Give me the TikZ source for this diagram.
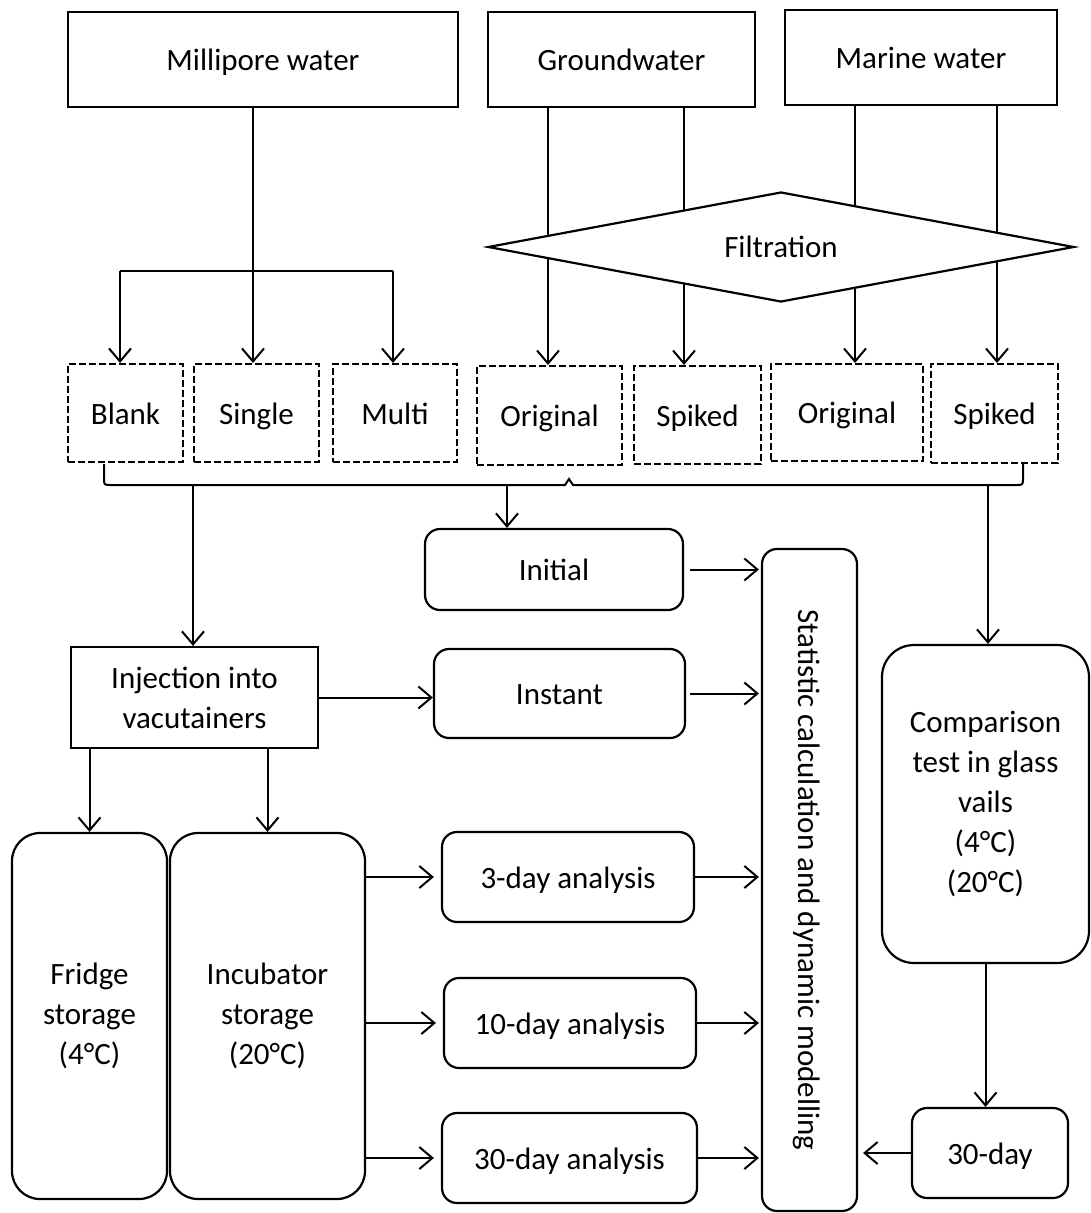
\documentclass[tikz,border=0pt]{standalone}
\usepackage{fontspec}
\setmainfont{Carlito}
\usetikzlibrary{arrows.meta,shapes.geometric,backgrounds}
\begin{document}
\begin{tikzpicture}[x=1pt,y=-1pt,
  every node/.style={font=\fontsize{31}{40}\selectfont, align=center, inner sep=0pt},
  oneline/.style={text height=23pt, text depth=1pt},
  box/.style={draw, line width=2.2pt, rectangle},
  rbox/.style={box, rounded corners=#1},
  rbox/.default=15pt,
  dbox/.style={draw, oneline, line width=2pt, dash pattern=on 7pt off 3pt},
  conn/.style={line width=2pt},
  arr/.style={conn, -{Straight Barb[length=13pt,width=22pt]}}
]
\useasboundingbox (0,0) rectangle (1091,1213);

% sources
\node[box, oneline, minimum width=390pt, minimum height=95pt] (mill) at (263,59.5) {Millipore water};
\node[box, oneline, minimum width=267pt, minimum height=95pt] (ground) at (621.5,59.5) {Groundwater};
\node[box, oneline, minimum width=272pt, minimum height=95pt] (marine) at (921,57.5) {Marine water};

\node[draw, diamond, shape aspect=5.3, minimum width=586pt, minimum height=110pt,
      line width=2.2pt, fill=white] (filt) at (781,247) {Filtration};

% sample types
\node[dbox, minimum width=115pt, minimum height=98pt] (blank) at (125.5,413) {Blank};
\node[dbox, minimum width=125pt, minimum height=98pt] (single) at (256.5,413) {Single};
\node[dbox, minimum width=124pt, minimum height=98pt] (multi) at (395,413) {Multi};
\node[dbox, minimum width=145pt, minimum height=99pt] (orig1) at (549.5,415.5) {Original};
\node[dbox, minimum width=127pt, minimum height=98pt] (spiked1) at (697.5,415) {Spiked};
\node[dbox, minimum width=152pt, minimum height=97pt] (orig2) at (847,412.5) {Original};
\node[dbox, minimum width=127pt, minimum height=99pt] (spiked2) at (994.5,413.5) {Spiked};

% middle
\node[box, minimum width=247pt, minimum height=101pt] (inj) at (194.5,697.5) {Injection into\\vacutainers};
\node[rbox, oneline, minimum width=258pt, minimum height=81pt] (initial) at (554,569.5) {Initial};
\node[rbox, oneline, minimum width=251pt, minimum height=89pt] (instant) at (559.5,693.5) {Instant};
\node[rbox, minimum width=95pt, minimum height=662pt] (stat) at (809.5,880) {};
\node[rotate=-90, oneline] (stattext) at (stat.center) {Statistic calculation and dynamic modelling};
\node[rbox=32pt, minimum width=207pt, minimum height=318pt] (comp) at (985.5,804)
  {Comparison\\test in glass\\vails\\(4°C)\\(20°C)};
\node[rbox, oneline, minimum width=156pt, minimum height=90pt] (thirty) at (990,1153) {30-day};

% storage
\node[rbox=28pt, minimum width=155pt, minimum height=366pt] (fridge) at (89.5,1016) {Fridge\\storage\\(4°C)};
\node[rbox=28pt, minimum width=195pt, minimum height=366pt] (incub) at (267.5,1016) {Incubator\\storage\\(20°C)};

% analyses
\node[rbox, oneline, minimum width=252pt, minimum height=90pt] (three) at (568,877) {3-day analysis};
\node[rbox, oneline, minimum width=252pt, minimum height=90pt] (ten) at (570,1023) {10-day analysis};
\node[rbox, oneline, minimum width=255pt, minimum height=90pt] (thirtyA) at (569.5,1158) {30-day analysis};

% helper coordinates
\coordinate (mx) at (253,271);
\coordinate (bl) at (120,271);
\coordinate (br) at (393,271);
\coordinate (gx1) at (548,0);
\coordinate (gx2) at (684,0);
\coordinate (mx1) at (855,0);
\coordinate (mx2) at (997,0);
\coordinate (b1) at (193,485);
\coordinate (b2) at (507,485);
\coordinate (b3) at (988,485);

\begin{scope}[on background layer]
  \draw[conn] (mill.south -| mx) -- (mx);
  \draw[conn] (bl) -- (br);
  \draw[arr] (bl) -- (bl |- blank.north);
  \draw[arr] (mx) -- (mx |- single.north);
  \draw[arr] (br) -- (br |- multi.north);
  \draw[arr] (gx1 |- ground.south) -- (gx1 |- orig1.north);
  \draw[arr] (gx2 |- ground.south) -- (gx2 |- spiked1.north);
  \draw[arr] (mx1 |- marine.south) -- (mx1 |- orig2.north);
  \draw[arr] (mx2 |- marine.south) -- (mx2 |- spiked2.north);

  % bracket under the sample types
  \draw[conn] (104,464) -- (104,478) .. controls (104,485) .. (111,485) -- (565,485)
     -- (569,479) -- (573,485) -- (1016,485) .. controls (1023,485) .. (1023,478) -- (1023,464);
  \draw[arr] (b1) -- (b1 |- inj.north);
  \draw[arr] (b2) -- (b2 |- initial.north);
  \draw[arr] (b3) -- (b3 |- comp.north);

  \draw[arr] (inj.east) -- (inj.east -| instant.west);
  \draw[arr, shorten >=2pt] ([xshift=6pt]initial.east) -- (initial.east -| stat.west);
  \draw[arr, shorten >=2pt] ([xshift=4pt]instant.east) -- (instant.east -| stat.west);
  \draw[arr] (inj.south -| fridge.north) -- (fridge.north);
  \draw[arr] (inj.south -| incub.north) -- (incub.north);
  \draw[arr, shorten >=7pt] (incub.east |- three.west) -- (three.west);
  \draw[arr, shorten >=7pt] (incub.east |- ten.west) -- (ten.west);
  \draw[arr, shorten >=7pt] (incub.east |- thirtyA.west) -- (thirtyA.west);
  \draw[arr, shorten >=2pt] (three.east) -- (three.east -| stat.west);
  \draw[arr, shorten >=2pt] (ten.east) -- (ten.east -| stat.west);
  \draw[arr, shorten >=2pt] (thirtyA.east) -- (thirtyA.east -| stat.west);
  \draw[arr] (comp.south) -- (comp.south |- thirty.north);
  \draw[arr, shorten >=5pt] (thirty.west) -- (thirty.west -| stat.east);
\end{scope}
\end{tikzpicture}
\end{document}
